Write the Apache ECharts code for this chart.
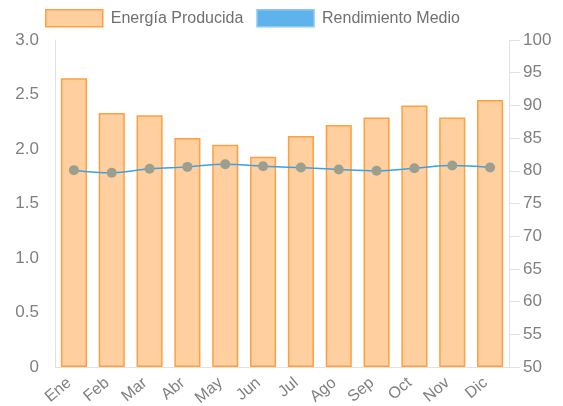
<!DOCTYPE html>
<html>
<head>
<meta charset="utf-8">
<script src="https://cdn.jsdelivr.net/npm/echarts@6/dist/echarts.min.js"></script>
<style>
  html, body { margin: 0; padding: 0; background: #fff; }
  #chart { width: 563px; height: 406px; }
</style>
</head>
<body>
<div id="chart"></div>
<script>
// datos
const meses = ['Ene', 'Feb', 'Mar', 'Abr', 'May', 'Jun', 'Jul', 'Ago', 'Sep', 'Oct', 'Nov', 'Dic']
const energia = [2.65, 2.33, 2.31, 2.10, 2.04, 1.93, 2.12, 2.22, 2.29, 2.40, 2.29, 2.45]
const rendimiento = [80.1, 79.7, 80.3, 80.6, 81.0, 80.7, 80.5, 80.2, 80.0, 80.4, 80.8, 80.5]
const nombres = ['Energía Producida', 'Rendimiento Medio']

const labelColor = '#808080'
const lineaEje = '#e2e2e2'

const chart = echarts.init(document.getElementById('chart'))
chart.setOption({
  backgroundColor: '#fff',
  animation: false,
  textStyle: { fontFamily: 'Liberation Sans, Arial, sans-serif' },
  legend: {
    left: 45,
    top: 9,
    padding: 0,
    itemWidth: 57,
    itemHeight: 17,
    itemGap: 13,
    icon: 'rect',
    textStyle: { fontSize: 16, color: '#707070', padding: [0, 0, 0, 3] },
    data: [
      { name: nombres[0], itemStyle: { color: '#ffcf9f', borderColor: '#ff9f40', borderWidth: 1.5 } },
      { name: nombres[1], itemStyle: { color: '#5eb3ed', borderColor: '#8cc8f2', borderWidth: 1.5 } }
    ]
  },
  grid: { left: 55, right: 54, top: 40, bottom: 39, outerBoundsMode: 'none' },
  xAxis: {
    type: 'category',
    data: meses,
    axisLine: { show: true, lineStyle: { color: lineaEje } },
    axisTick: { show: false },
    axisLabel: { rotate: 40, fontSize: 16, color: labelColor, margin: 10, interval: 0, padding: [0, 6, 0, 0] }
  },
  yAxis: [
    {
      type: 'value',
      min: 0,
      max: 3,
      interval: 0.5,
      axisLine: { show: true, lineStyle: { color: lineaEje } },
      axisTick: { show: false },
      splitLine: { show: false },
      axisLabel: {
        fontSize: 17,
        color: labelColor,
        margin: 16,
        formatter: v => (v === 0 ? '0' : v.toFixed(1))
      }
    },
    {
      type: 'value',
      min: 50,
      max: 100,
      interval: 5,
      position: 'right',
      axisLine: { show: true, lineStyle: { color: lineaEje } },
      axisTick: { show: true, length: 11, lineStyle: { color: lineaEje } },
      splitLine: { show: false },
      axisLabel: { fontSize: 17, color: labelColor, margin: 14 }
    }
  ],
  series: [
    {
      name: nombres[0],
      type: 'bar',
      yAxisIndex: 0,
      data: energia,
      barCategoryGap: '31%',
      itemStyle: { color: '#ffcf9f', borderColor: '#ff9f40', borderWidth: 1.5 }
    },
    {
      name: nombres[1],
      type: 'line',
      yAxisIndex: 1,
      data: rendimiento,
      smooth: 0.4,
      symbol: 'circle',
      symbolSize: 10,
      lineStyle: { color: '#36a2eb', width: 1.5 },
      itemStyle: { color: '#9c9e8e', borderWidth: 0 },
      z: 3
    }
  ]
})
</script>
</body>
</html>
